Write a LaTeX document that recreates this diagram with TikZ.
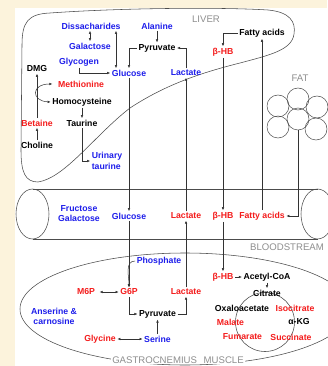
\documentclass[tikz,border=0pt]{standalone}
\usepackage{fontspec}
\setmainfont{Liberation Sans}
\usetikzlibrary{arrows.meta}

\definecolor{paper}{HTML}{FCF3DC}
\definecolor{mBlue}{HTML}{1E1EEB}
\definecolor{mRed}{HTML}{F41C1C}
\definecolor{mGray}{HTML}{8E8E8E}

\tikzstyle{tS}=[inner sep=1.5pt, font=\fontsize{8.7}{10}\selectfont\bfseries]
\tikzstyle{bS}=[tS, text=mBlue]
\tikzstyle{rS}=[tS, text=mRed]
\tikzstyle{kS}=[tS, text=black]
\tikzstyle{gS}=[inner sep=1pt, font=\fontsize{9.6}{11}\selectfont, text=mGray]
\tikzstyle{aS}=[>={Latex[length=3pt,width=2.6pt]}, ->, line width=0.5pt, draw=black!80]
\tikzstyle{oS}=[line width=0.55pt, draw=black!70]
\tikzstyle{fS}=[circle, draw=black!70, line width=0.5pt, minimum size=22pt, inner sep=0pt]

\begin{document}
\begin{tikzpicture}[x=1pt,y=-1pt]
                \useasboundingbox (0,0) rectangle (327,366);
                \fill[paper] (0,0) rectangle (327,366);
                \fill[white] (15,8) rectangle (327,366);
                % organs
                \draw[oS] (22,45) .. controls (22,22) and (28,14) .. (50,13)
                    .. controls (120,8) and (220,7) .. (268,10)
                    .. controls (290,12) and (296,22) .. (294,34)
                    .. controls (292,50) and (270,55) .. (240,63)
                    .. controls (200,73) and (165,85) .. (130,108)
                    .. controls (95,135) and (65,178) .. (38,182)
                    .. controls (25,182) and (21,172) .. (21,150) -- cycle;
                \draw[oS] (32.5,214) ellipse[x radius=16.5pt, y radius=25pt];
                \draw[oS] (317.5,214) ellipse[x radius=16.5pt, y radius=25pt];
                \draw[oS] (32.5,189) -- (317.5,189);
                \draw[oS] (32.5,239) -- (317.5,239);
                \draw[oS] (185,309) ellipse[x radius=165pt, y radius=56pt];
                \draw[oS] (265,322) circle[radius=29.5pt];
                \foreach \n/\cx/\cy in {1/278/106, 2/298/99, 3/317/107, 4/278/127, 5/298/119, 6/316/129}
                    \node[fS] (fat\n) at (\cx,\cy) {};
                % region labels
                \draw (206,19) node[gS] (liv) {LIVER};
                \draw (300,78) node[gS] (fatL) {FAT};
                \draw (325,247) node[gS,anchor=east] (blood) {BLOODSTREAM};
                \draw (178,360) node[gS,fill=white] (musc) {GASTROCNEMIUS\hspace{4pt} MUSCLE};
                % liver
                \draw (91,26) node[bS] (dis) {Dissacharides};
                \draw (157,26) node[bS] (ala) {Alanine};
                \draw (90,46) node[bS] (gal) {Galactose};
                \draw (157,48) node[kS] (lPyr) {Pyruvate};
                \draw (79,62) node[bS] (glyc) {Glycogen};
                \draw (129,73) node[bS] (lGlc) {Glucose};
                \draw (186,73) node[bS] (lLac) {Lactate};
                \draw (262,33) node[kS] (lFa) {Fatty acids};
                \draw (223,52) node[rS] (lHB) {β-HB};
                \draw (37,69) node[kS] (dmg) {DMG};
                \draw (81,84) node[rS] (met) {Methionine};
                \draw (82,102) node[kS] (hcy) {Homocysteine};
                \draw (37,123) node[rS] (bet) {Betaine};
                \draw (82,123) node[kS] (tau) {Taurine};
                \draw (37,145) node[kS] (cho) {Choline};
                \draw (107,161) node[bS,align=left] (uri) {Urinary\\[1pt]taurine};
                % bloodstream
                \draw (79,214) node[bS,align=center] (fru) {Fructose\\Galactose};
                \draw (129,216) node[bS] (bGlc) {Glucose};
                \draw (186,216) node[rS] (bLac) {Lactate};
                \draw (223,216) node[rS] (bHB) {β-HB};
                \draw (262,216) node[rS] (bFa) {Fatty acids};
                % muscle
                \draw (159,261) node[bS] (pho) {Phosphate};
                \draw (223,277) node[rS] (mHB) {β-HB};
                \draw (267,277) node[kS] (acc) {Acetyl-CoA};
                \draw (86,292) node[rS] (m6p) {M6P};
                \draw (129,292) node[rS] (g6p) {G6P};
                \draw (186,292) node[rS] (mLac) {Lactate};
                \draw (267,293) node[kS] (cit) {Citrate};
                \draw (54,316) node[bS,align=center] (ans) {Anserine \&\\carnosine};
                \draw (157.5,314) node[kS] (mPyr) {Pyruvate};
                \draw (242,308) node[kS] (oaa) {Oxaloacetate};
                \draw (295,308) node[rS] (icit) {Isocitrate};
                \draw (230.5,322) node[rS] (mal) {Malate};
                \draw (299,322) node[kS] (akg) {α-KG};
                \draw (242.5,337) node[rS] (fum) {Fumarate};
                \draw (291,337) node[rS] (suc) {Succinate};
                \draw (100,339) node[rS] (glyn) {Glycine};
                \draw (157.5,339) node[bS] (ser) {Serine};
                % connectors
                \path
                    (ala) edge[aS] (lPyr)
                    (lGlc) edge[aS] (bGlc)
                    (bGlc) edge[aS] (g6p)
                    (mLac) edge[aS] (bLac)
                    (bLac) edge[aS] (lLac)
                    (lHB) edge[aS] (bHB)
                    (bHB) edge[aS] (mHB)
                    (bFa) edge[aS] (lFa)
                    (bet) edge[aS] (dmg)
                    (cho) edge[aS] (bet)
                    (hcy) edge[aS] (tau)
                    (ser) edge[aS] (mPyr)
                    (glyn) edge[aS,<->] (ser)
                    (m6p) edge[aS,<->,shorten <=3pt] (g6p)
                    (mHB) edge[aS] (acc)
                    (acc) edge[aS] (cit)
                    (gal.north) edge[aS,<->] (gal.north |- dis.south)
                ;
                \draw[aS,<->] ([xshift=25pt]dis.south) -- ([xshift=-13pt]lGlc.north);
                \draw[aS] (lPyr.west) -| (lGlc.north);
                \draw[aS] (lLac.north) |- (lPyr.east);
                \draw[aS] (glyc.south) |- (lGlc.west);
                \draw[aS] (lFa.west) -| (lHB.north);
                \draw[aS] (fat5.south) |- (bFa.east);
                \draw[aS] (tau.south) |- (uri.west);
                \draw[aS] (g6p.south) |- (mPyr.west);
                \draw[aS] (mPyr.east) -| (mLac.south);
                \draw[aS] (pho.west) to[out=180,in=90] (g6p.north);
                \draw[aS,<->] ([xshift=-4pt]met.west) .. controls (31,84) and (31,101) .. (hcy.west);
        \end{tikzpicture}
\end{document}
